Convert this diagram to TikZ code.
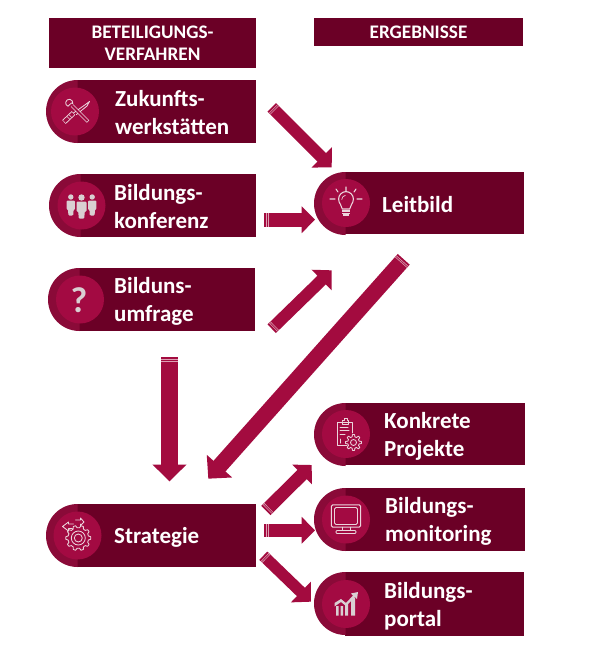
\documentclass[tikz,border=0pt]{standalone}
\usepackage{fontspec}
\setmainfont{Carlito}
\usetikzlibrary{arrows.meta,calc}
\definecolor{pilldark}{HTML}{6B0026}
\definecolor{pillmid}{HTML}{8A0A38}
\definecolor{pillcirc}{HTML}{A30A42}
\definecolor{arrowred}{HTML}{A30B3F}
\definecolor{iconlight}{HTML}{EBD5DC}
\definecolor{icongrey}{HTML}{D9CFD2}
\definecolor{stripe}{HTML}{DDA0B4}
\tikzset{
  x=1pt,y=-1pt,
  headbox/.style={fill=pilldark,draw=none,inner sep=0pt,text=white,align=center,font=\bfseries\fontsize{19.2}{22.3}\selectfont},
  pilltext/.style={anchor=west,inner sep=0pt,text=white,align=left,font=\bfseries\fontsize{23}{28}\selectfont},
  iconline/.style={draw=iconlight,line width=0.85pt,line join=round,line cap=round},
  blockarrow/.style n args={3}{draw=arrowred,line width=#1pt,-{Triangle[length=#2pt,width=#3pt]},
    postaction={draw=stripe,arrows=-,line width=#1pt,dash pattern=on 0pt off 2pt on 0.6pt off 1pt on 0.6pt off 2000pt}},
}
\newcommand{\pillshape}[6]{%
  \fill[pilldark] (#2+31,#4) rectangle (#3,#5);
  \fill[pillmid] ($(#2+31.5,#4)$) arc[start angle=90,end angle=270,radius=31.5pt] -- cycle;
  \fill[pillcirc] ($(#6,{(#4+#5)/2})$) circle[radius=24pt];
  \coordinate (#1) at ($(#6,{(#4+#5)/2})$);
}
\newcommand{\gearpath}[4]{%
  \draw[iconline] ($(#1,#2)+(0:#3)$)
   \foreach \i in {1,...,#4}{
     -- ($(#1,#2)+({(\i-1)*360/#4+0.16*360/#4}:#3)$)
     -- ($(#1,#2)+({(\i-1)*360/#4+0.32*360/#4}:#3-2.2)$)
     -- ($(#1,#2)+({(\i-1)*360/#4+0.68*360/#4}:#3-2.2)$)
     -- ($(#1,#2)+({(\i-1)*360/#4+0.84*360/#4}:#3)$)
     -- ($(#1,#2)+({\i*360/#4}:#3)$)
   } -- cycle;
}
\begin{document}
\begin{tikzpicture}
\useasboundingbox[fill=white] (0,0) rectangle (590,664);

% headers
\node[headbox,minimum width=207pt,minimum height=50pt] (hl) at (152.5,43) {BETEILIGUNGS-\\VERFAHREN};
\node[headbox,minimum width=209pt,minimum height=28pt] (hr) at (418.5,32) {ERGEBNISSE};

% pills
\pillshape{czu}{46}{256}{80}{143}{75}
\pillshape{cbi}{49}{256}{174}{237}{81.5}
\pillshape{cum}{48}{255}{268}{331}{80}
\pillshape{cst}{46}{256}{504}{567}{77.5}
\pillshape{cle}{314}{524}{172}{234}{346}
\pillshape{cko}{314}{525}{403}{465}{346}
\pillshape{cmo}{314}{525}{488}{551}{346}
\pillshape{cpo}{314}{524}{572}{636}{346}

% texts
\node[pilltext] (zu) at (115,112.5) {Zukunfts-\\werkstätten};
\node[pilltext] (bi) at (114,207) {Bildungs-\\konferenz};
\node[pilltext] (um) at (114,301) {Bilduns-\\umfrage};
\node[pilltext] (st) at (114,537) {Strategie};
\node[pilltext] (le) at (382,205) {Leitbild};
\node[pilltext] (ko) at (384,436) {Konkrete\\Projekte};
\node[pilltext] (mo) at (385,521) {Bildungs-\\monitoring};
\node[pilltext] (po) at (384,606) {Bildungs-\\portal};

% icon: tools
\begin{scope}[shift={(czu)}]
  \draw[iconline] (-1.5,1.5) -- (10.5,-7) -- (14.5,-10) -- (12,-5.5) -- (1.5,3);
  \draw[iconlight,line width=3.4pt] (-3,-6) -- (13,10);
  \draw[pillcirc,line width=1.8pt] (-3,-6) -- (12.6,9.6);
  \draw[iconline,fill=pillcirc] (-2.2,-8) arc[start angle=-10,end angle=250,radius=3.6pt] -- (-3.6,-8.5) -- cycle;
  \draw[iconlight,line width=5.2pt] (-11,10.5) -- (-1.5,1.5);
  \draw[pillcirc,line width=3.4pt] (-10.6,10.1) -- (-1.9,1.9);
  \draw[iconline,line width=0.6pt] (-8,5) -- (-5,8) (-6,3.2) -- (-3.2,6);
\end{scope}

% icon: people
\begin{scope}[shift={(cbi)}]
  \foreach \dx in {-10.7,10.7}{
    \begin{scope}[shift={(\dx,-1)}]
      \fill[icongrey] (0,-7.5) circle[radius=2.7pt];
      \fill[icongrey,rounded corners=1pt] (-4.2,-4) -- (4.2,-4) -- (4.2,5) -- (2.8,5) -- (2.4,11) -- (-2.4,11) -- (-2.8,5) -- (-4.2,5) -- cycle;
    \end{scope}
  }
  \fill[pillcirc,rounded corners=1pt] (-6.2,-6.5) rectangle (6.2,14);
  \fill[icongrey] (0,-8) circle[radius=3.2pt];
  \fill[icongrey,rounded corners=1pt] (-5,-4) -- (5,-4) -- (5,6) -- (3.2,6) -- (2.8,13) -- (-2.8,13) -- (-3.2,6) -- (-5,6) -- cycle;
\end{scope}

% icon: question mark
\node[text=icongrey,inner sep=0pt,font=\bfseries\fontsize{36}{36}\selectfont] (qm) at ($(cum)+(-1,1)$) {?};

% icon: bulb
\begin{scope}[shift={(cle)}]
  \draw[iconline,line width=1.1pt] (-3.7,6) .. controls (-3.7,2) and (-7.4,1) .. (-7.4,-4) arc[start angle=180,end angle=0,radius=7.4pt] .. controls (7.4,1) and (3.7,2) .. (3.7,6) -- cycle;
  \draw[iconline,line width=0.7pt] (-4.2,-3.5) arc[start angle=180,end angle=100,radius=4.2pt];
  \draw[iconlight,line width=1.3pt] (-4,8) -- (4,8) (-4,10.2) -- (4,10.2);
  \draw[iconlight,line width=1.7pt] (-2.6,12.2) -- (2.6,12.2);
  \draw[iconline,line width=1.1pt] (0,-16) -- (0,-12) (-10,-14) -- (-8,-11) (10,-14) -- (8,-11) (-16,-4) -- (-11,-4) (11,-4) -- (16,-4);
\end{scope}

% icon: clipboard with gear
\begin{scope}[shift={(cko)}]
  \draw[iconline] (1,11) -- (-8.5,11) -- (-8.5,-12) -- (6.5,-12) -- (6.5,-1);
  \draw[iconline] (-4,-12) -- (-4,-14) -- (-1.5,-14) -- (-1.5,-16) -- (1,-16) -- (1,-14) -- (2.5,-14) -- (2.5,-10) -- (-4,-10) -- cycle;
  \draw[iconline,line width=1pt] (-6,-7) -- (2,-7) (-6,-3.5) -- (3,-3.5) (-6,0) -- (-1,0) (-5.5,5) -- (-5.5,9);
  \gearpath{7.5}{8.5}{8}{8}
  \draw[iconline] (7.5,8.5) circle[radius=3pt];
\end{scope}

% icon: monitor
\begin{scope}[shift={(cmo)}]
  \draw[iconline,line width=1pt,rounded corners=1.5pt] (-14.7,-14.7) rectangle (14.7,7.7);
  \draw[iconline,rounded corners=1.5pt] (-11.5,-12) rectangle (11.5,5);
  \draw[iconline] (-4,7.7) -- (-4,11) -- (4,11) -- (4,7.7);
  \draw[iconline,rounded corners=1pt] (-10,11) rectangle (10,14);
\end{scope}

% icon: chart
\begin{scope}[shift={(cpo)}]
  \fill[icongrey] (-10,2) rectangle (-7.5,11.5) (-5.5,2) rectangle (-3,11.5) (-1,0) rectangle (2,11.5) (5,-6) rectangle (9,11.5);
  \fill[icongrey] (-11.5,-1) -- (-5,-5) -- (0,-1) -- (7,-8.5) -- (5,-10.5) -- (12,-12) -- (11,-5) -- (9,-7) -- (0,2) -- (-5,-2) -- (-11.5,2.5) -- cycle;
\end{scope}

% icon: strategy
\begin{scope}[shift={(cst)}]
  \gearpath{0.8}{2.5}{12.5}{10}
  \draw[iconline] (0.8,2.5) circle[radius=7pt] (0.8,2.5) circle[radius=4pt];
  \draw[iconline] (-2,-15.5) -- (3,-15.5) -- (3,-17.5) -- (6.5,-13.5) -- (3,-10) -- (3,-11.5);
  \draw[iconline] (-4,-11.5) -- (-9,-11.5) -- (-9,-13.5) -- (-15,-9) -- (-9,-4.5) -- (-9,-7) -- (-5,-7);
\end{scope}

% connector ends
\coordinate (a1s) at (271.7,107.3); \coordinate (a1e) at (331.7,167.3);
\coordinate (a2s) at (264,219.7);   \coordinate (a2e) at (315,219.7);
\coordinate (a3s) at (271.7,328.7); \coordinate (a3e) at (331.7,270.3);
\coordinate (a4s) at (403.7,259.3); \coordinate (a4e) at (208.3,478.7);
\coordinate (a5s) at (169.5,357);   \coordinate (a5e) at (169.5,481.3);
\coordinate (a6s) at (265.8,510.5); \coordinate (a6e) at (311.7,465);
\coordinate (a7s) at (264,530.3);   \coordinate (a7e) at (315,530.3);
\coordinate (a8s) at (263.3,555.7); \coordinate (a8e) at (311,601.7);

\draw[blockarrow={12}{14}{28}] (a1s) -- (a1e);
\draw[blockarrow={14}{13.3}{26}] (a2s) -- (a2e);
\draw[blockarrow={12}{14}{28}] (a3s) -- (a3e);
\draw[blockarrow={16}{16.8}{33}] (a4s) -- (a4e);
\draw[blockarrow={17}{16.7}{33}] (a5s) -- (a5e);
\draw[blockarrow={13}{13.5}{27}] (a6s) -- (a6e);
\draw[blockarrow={13.5}{13.3}{26}] (a7s) -- (a7e);
\draw[blockarrow={11.5}{14}{28}] (a8s) -- (a8e);
\end{tikzpicture}
\end{document}
